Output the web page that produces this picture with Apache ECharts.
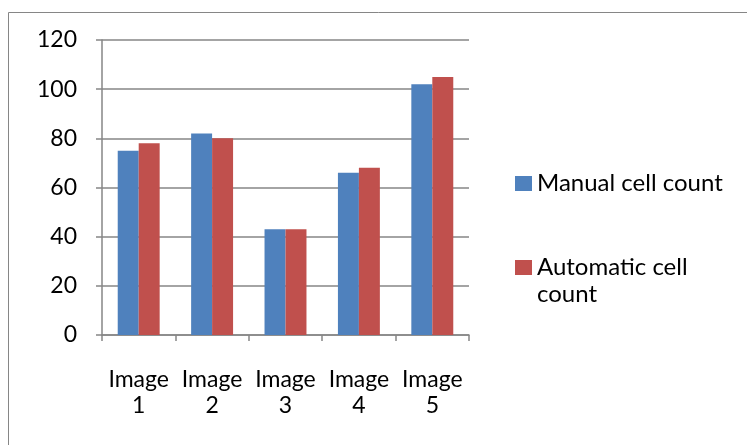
<!DOCTYPE html>
<html>
<head>
<meta charset="utf-8">
<script src="https://cdn.jsdelivr.net/npm/echarts@6/dist/echarts.min.js"></script>
<style>
  html, body { margin: 0; padding: 0; background: #fff; }
  #chart { width: 747px; height: 445px; }
</style>
</head>
<body>
<div id="chart"></div>
<script>
// Cell counts per image: manual vs automatic
const categories = ['Image 1', 'Image 2', 'Image 3', 'Image 4', 'Image 5'];
const manualCounts = [75, 82, 43, 66, 102];
const automaticCounts = [78, 80, 43, 68, 105];
const seriesNames = ['Manual cell count', 'Automatic cell count'];
const yTicks = { min: 0, max: 120, interval: 20 };

const FONT = 'Lato';
const AXIS_GRAY = '#868686';

const chart = echarts.init(document.getElementById('chart'), null, { renderer: 'canvas' });

chart.setOption({
  animation: false,
  backgroundColor: '#ffffff',
  textStyle: { fontFamily: FONT, color: '#000' },
  graphic: [{
    type: 'rect',
    shape: { x: 8.5, y: 12.5, width: 760, height: 460 },
    style: { fill: 'none', stroke: AXIS_GRAY, lineWidth: 1 },
    silent: true,
    z: -1
  }],
  grid: { left: 102, top: 40, width: 367, height: 295, containLabel: false },
  legend: {
    orient: 'vertical',
    left: 510,
    top: 163,
    itemWidth: 17,
    itemHeight: 15,
    itemGap: 26,
    icon: 'rect',
    selectedMode: false,
    textStyle: { fontFamily: FONT, fontSize: 24, lineHeight: 27, color: '#000', padding: [4, 0, 0, 0] },
    formatter: function (name) {
      return name === 'Automatic cell count' ? ' \nAutomatic cell\ncount' : name;
    },
    data: seriesNames
  },
  xAxis: {
    type: 'category',
    data: categories,
    boundaryGap: true,
    axisLine: { show: true, lineStyle: { color: AXIS_GRAY, width: 1.5 } },
    axisTick: { show: true, inside: false, length: 6, alignWithLabel: false, lineStyle: { color: AXIS_GRAY, width: 1.5 } },
    axisLabel: {
      margin: 32,
      fontFamily: FONT,
      fontSize: 23,
      lineHeight: 26,
      color: '#000',
      interval: 0,
      formatter: function (v) { return v.replace(' ', '\n'); }
    },
    splitLine: { show: false }
  },
  yAxis: {
    type: 'value',
    min: yTicks.min,
    max: yTicks.max,
    interval: yTicks.interval,
    axisLine: { show: true, lineStyle: { color: AXIS_GRAY, width: 1.5 } },
    axisTick: { show: true, inside: false, length: 6, lineStyle: { color: AXIS_GRAY, width: 1.5 } },
    axisLabel: { margin: 25, fontFamily: FONT, fontSize: 23, color: '#000' },
    splitLine: { show: true, lineStyle: { color: AXIS_GRAY, width: 1.5 } }
  },
  series: [
    {
      name: seriesNames[0],
      type: 'bar',
      data: manualCounts,
      barGap: '0%',
      barCategoryGap: '42.86%',
      itemStyle: { color: '#4F81BD' }
    },
    {
      name: seriesNames[1],
      type: 'bar',
      data: automaticCounts,
      barGap: '0%',
      barCategoryGap: '42.86%',
      itemStyle: { color: '#C0504D' }
    }
  ]
});
</script>
</body>
</html>
